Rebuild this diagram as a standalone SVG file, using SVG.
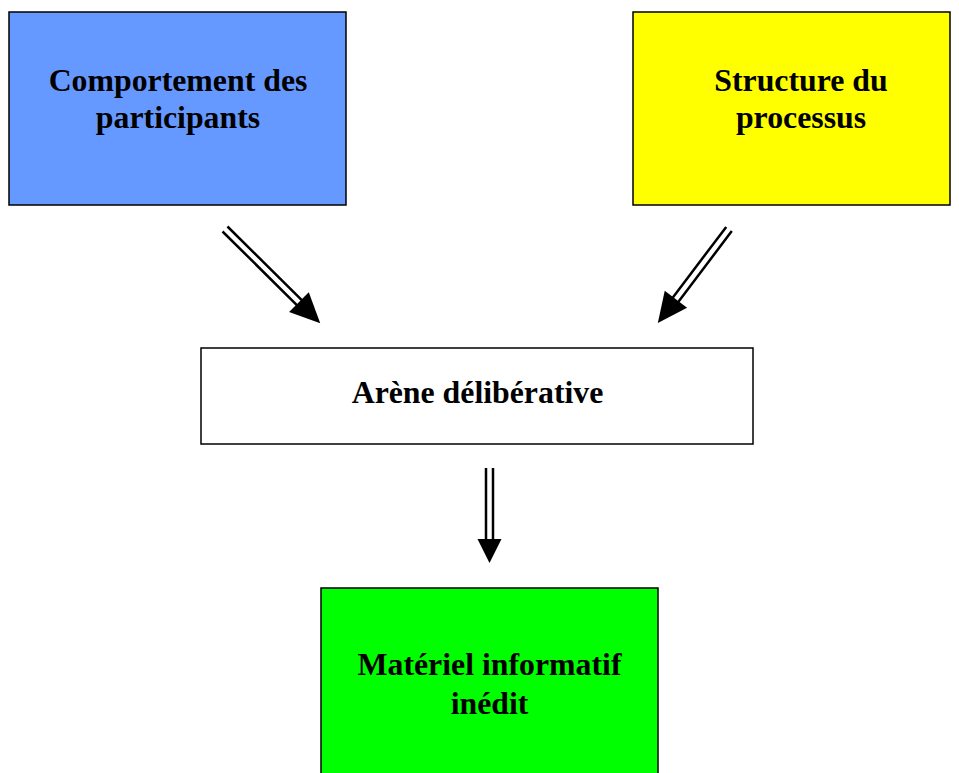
<svg xmlns="http://www.w3.org/2000/svg" width="959" height="773" viewBox="0 0 959 773">
<style>
.box{stroke:#000;stroke-width:1.5}
.t{font-family:"Liberation Serif","Times New Roman",serif;font-weight:bold;font-size:31.8px;text-anchor:middle;fill:#000}
.ln{stroke:#000;stroke-width:2.5;fill:none}
.hd{fill:#000}
</style>
<rect width="959" height="773" fill="#fff"/>
<g id="comportement">
<rect class="box" x="9" y="12" width="337" height="193" fill="#6699FF"/>
<text class="t" x="178" y="91">Comportement des</text>
<text class="t" x="178" y="128">participants</text>
</g>
<g id="structure">
<rect class="box" x="633" y="12" width="317" height="193" fill="#FFFF00"/>
<text class="t" x="801" y="91">Structure du</text>
<text class="t" x="801" y="128">processus</text>
</g>
<g id="arene">
<rect class="box" x="201" y="348" width="552" height="96" fill="#FFFFFF"/>
<text class="t" x="477.5" y="402.5">Arène délibérative</text>
</g>
<g id="materiel">
<rect class="box" x="321" y="588" width="337" height="190" fill="#00FF00"/>
<text class="t" x="489.5" y="675">Matériel informatif</text>
<text class="t" x="489.5" y="714">inédit</text>
</g>
<g id="connectors">
<g transform="translate(225,229) rotate(-45.3)">
<path class="ln" d="M-3.5 0V106M3.5 0V106"/>
<polygon class="hd" points="-14,104 14,104 0,134"/>
</g>
<g transform="translate(729,229) rotate(37.1)">
<path class="ln" d="M-3.5 0V90M3.5 0V90"/>
<polygon class="hd" points="-14,88 14,88 0,118"/>
</g>
<g transform="translate(489.5,468)">
<path class="ln" d="M-3.5 0V72M3.5 0V72"/>
<polygon class="hd" points="-12,71 12,71 0,95"/>
</g>
</g>
</svg>
